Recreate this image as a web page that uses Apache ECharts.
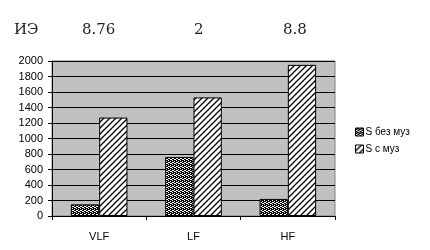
<!DOCTYPE html>
<html><head><meta charset="utf-8">
<script src="https://cdn.jsdelivr.net/npm/echarts@6/dist/echarts.min.js"></script>
<style>html,body{margin:0;padding:0;background:#fff}#c{width:430px;height:250px}</style>
</head><body><div id="c"></div>
<script>
const categories = ['VLF', 'LF', 'HF'];
const seriesNames = ['S без муз', 'S с муз'];
const withoutMusic = [150, 760, 220];
const withMusic = [1270, 1530, 1950];
const ieLabel = 'ИЭ';
const ieValues = ['8.76', '2', '8.8'];

function makeDark() {
  const c = document.createElement('canvas'); c.width = 4; c.height = 4;
  const g = c.getContext('2d');
  g.fillStyle = '#000'; g.fillRect(0, 0, 4, 4);
  g.fillStyle = '#fff';
  g.fillRect(0, 0, 1, 1); g.fillRect(2, 1, 1, 1);
  g.fillRect(1, 2, 1, 1); g.fillRect(3, 3, 1, 1);
  g.fillRect(2, 3, 1, 1); g.fillRect(0, 2, 1, 1);
  return c;
}
function makeHatch() {
  const c = document.createElement('canvas'); c.width = 6; c.height = 6;
  const g = c.getContext('2d');
  g.fillStyle = '#fff'; g.fillRect(0, 0, 6, 6);
  g.strokeStyle = '#000'; g.lineWidth = 1.3;
  g.beginPath();
  g.moveTo(-1, 7); g.lineTo(7, -1);
  g.moveTo(-4, 4); g.lineTo(4, -4);
  g.moveTo(2, 10); g.lineTo(10, 2);
  g.stroke();
  return c;
}
const darkFill = { image: makeDark(), repeat: 'repeat' };
const hatchFill = { image: makeHatch(), repeat: 'repeat' };

const chart = echarts.init(document.getElementById('c'), null, { renderer: 'canvas' });
const textFont = { fontFamily: 'DejaVu Serif', fontSize: 15, fontWeight: 'lighter', fill: '#222' };
chart.setOption({
  animation: false,
  graphic: [
    { type: 'text', left: 14, top: 23, style: Object.assign({ text: ieLabel }, textFont) },
    { type: 'text', left: 82, top: 23, style: Object.assign({ text: ieValues[0] }, textFont) },
    { type: 'text', left: 194, top: 23, style: Object.assign({ text: ieValues[1] }, textFont) },
    { type: 'text', left: 283, top: 23, style: Object.assign({ text: ieValues[2] }, textFont) }
  ],
  grid: { left: 52, top: 61, right: 95, bottom: 34, show: true, backgroundColor: '#c0c0c0', borderColor: '#808080', borderWidth: 1 },
  legend: {
    orient: 'vertical', left: 350, top: 122, itemWidth: 8, itemHeight: 8, itemGap: 7,
    icon: 'rect',
    textStyle: { fontFamily: 'Liberation Sans', fontSize: 10, color: '#000', padding: [0, 0, 0, -3] },
    data: [
      { name: seriesNames[0], itemStyle: { color: darkFill, borderColor: '#000', borderWidth: 1 } },
      { name: seriesNames[1], itemStyle: { color: hatchFill, borderColor: '#000', borderWidth: 1 } }
    ]
  },
  xAxis: {
    type: 'category', data: categories,
    axisLine: { lineStyle: { color: '#000', width: 1 } },
    axisTick: { show: true, length: 4, lineStyle: { color: '#000' } },
    axisLabel: { fontFamily: 'Liberation Sans', fontSize: 11, color: '#000', margin: 15 }
  },
  yAxis: {
    type: 'value', min: 0, max: 2000, interval: 200,
    axisLine: { show: true, lineStyle: { color: '#000', width: 1 } },
    axisTick: { show: true, length: 4, lineStyle: { color: '#000' } },
    axisLabel: { fontFamily: 'Liberation Sans', fontSize: 11, color: '#000', margin: 9, formatter: v => String(v) },
    splitLine: { lineStyle: { color: '#000', width: 1 } }
  },
  series: [
    { name: seriesNames[0], type: 'bar', data: withoutMusic, barGap: '0%', barCategoryGap: '40%',
      itemStyle: { color: darkFill, borderColor: '#000', borderWidth: 1 } },
    { name: seriesNames[1], type: 'bar', data: withMusic, barGap: '0%', barCategoryGap: '40%',
      itemStyle: { color: hatchFill, borderColor: '#000', borderWidth: 1 } }
  ]
});
</script>
</body></html>
